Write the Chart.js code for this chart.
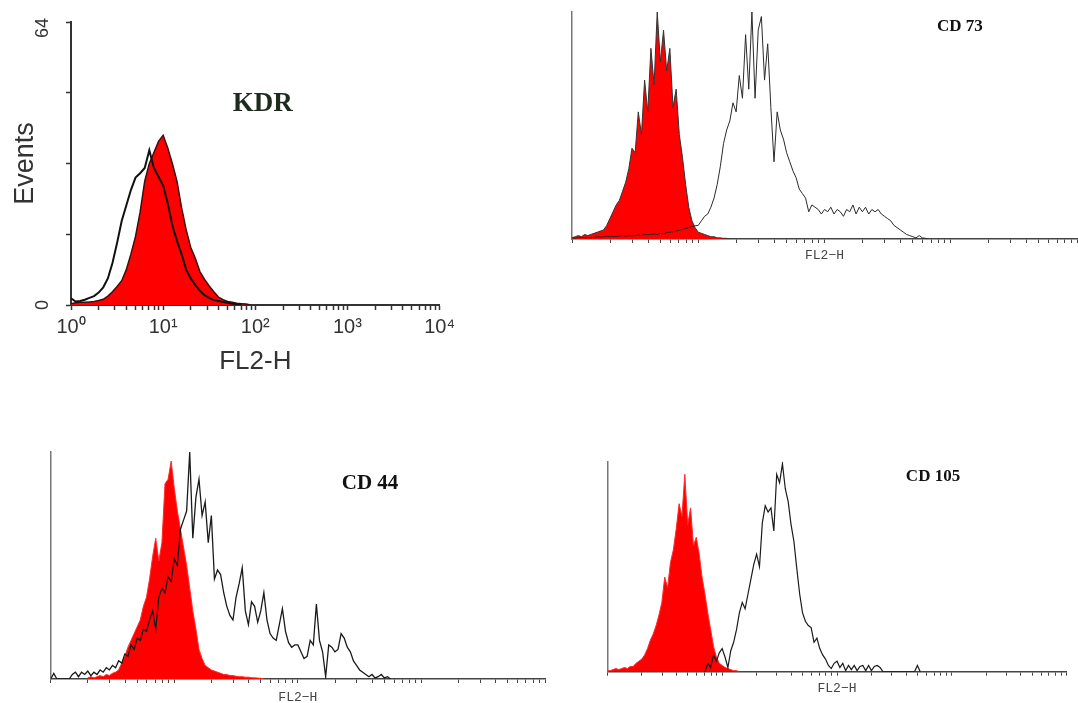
<!DOCTYPE html>
<html><head><meta charset="utf-8">
<script src="https://cdn.jsdelivr.net/npm/chart.js@4.4.1/dist/chart.umd.min.js"></script>
<style>
html,body{margin:0;padding:0;background:#fff;overflow:hidden;}
#fig{position:relative;width:1078px;height:703px;overflow:hidden;background:#fff;}
canvas{position:absolute;}
</style></head><body>
<div id="fig">
<canvas id="kdr" width="460" height="380" style="left:0px;top:0px;width:460px;height:380px"></canvas>
<canvas id="cd73" width="518" height="270" style="left:560px;top:0px;width:518px;height:270px"></canvas>
<canvas id="cd44" width="530" height="268" style="left:30px;top:440px;width:530px;height:268px"></canvas>
<canvas id="cd105" width="483" height="253" style="left:595px;top:450px;width:483px;height:253px"></canvas>
</div>
<script>
// ---------- data (histogram heights; x bins are log10 fluorescence) ----------
// KDR panel: events (0-64), bins of 0.05 decade starting at 10^0
const kdrStep = 0.05;
const kdrFilledStart = 0;
const kdrFilled = [0.3,0.5,0.6,0.6,0.7,0.8,1,1.3,2,3,4.2,5.5,8,11.5,15.5,21,28,32,34.5,37,38.4,35.5,32,28,22,17,13,10.5,7.5,5.8,4.3,3,1.8,1.2,0.8,0.6,0.4,0.3,0.2,0];
const kdrOutlineStart = 0;
const kdrOutline = [1.5,0.8,0.9,1.2,1.6,2,2.8,4,6,9.5,14,19,22.5,26,28.8,29.8,31,35,31,29,27,23,18,14.5,11.5,8,6,4.5,3.2,2.2,1.6,1.1,0.9,0.7,0.5,0.3,0.2,0];

// other panels: relative height (% of axis), bins of 0.025 decade
const binStep = 0.025;
const cd73FilledStart = 0;
const cd73Filled = [0.5,1,1.5,1,2,1.5,2,2.5,3,3.5,4,6,9,12,15,17,21,25,31,40,38,56,46,70,56,84,68,100,78,92,74,84,58,66,46,36,24,14,8,5,3,2.5,2,1.5,1,1,0.5,0.5,0.3,0.3,0];
const cd73OutlineStart = 0;
const cd73Outline = [0.5,0.3,0.5,0.8,0.5,0.7,0.5,0.8,1,0.8,1,1.2,1,1.2,1,1.3,1.5,1.2,1.5,1.3,1.5,
  1.8,1.5,2,1.8,2,2.2,2,2.5,2.2,2.8,3,3.2,3.5,3.8,4.2,4.6,5,5.5,5.8,
  6,8,10,11,14,18,24,32,42,48,52,60,56,72,62,90,66,100,62,92,98,70,86,58,34,56,48,44,38,34,30,27,22,20,18,12,15,14,13,11,13,12,14,11,13,12,10,13,12,15,11,14,12,14,11,13,12,13,11,10,9,8,6,5,4,3,2,1.5,1,0.5,1.5,0.5,0.3,0];

const cd44FilledStart = 0.3;
const cd44Filled = [0.5,1,0.5,1,1.5,1,2,1.5,2.5,3,4,7,10,14,17,20,23,26,32,36,44,54,62,52,60,86,88,96,84,74,66,58,50,40,30,22,13,9,6,5,4,3.5,3,2.5,2,2,1.5,1.5,1.2,1,1,0.8,0.8,0.6,0.5,0.4,0.3,0];
const cd44OutlineStart = 0;
const cd44Outline = [0,2.5,0,0,0,0,0,2,3,1,3,2,3.5,1.5,3,2,4,3,5,4,6,5,8,7,11,10,15,13,18,17,22,21,26,30,22,36,40,38,45,43,53,50,66,70,74,100,62,80,88,72,78,60,72,44,48,46,38,32,28,26,36,42,49,30,24,34,32,25,30,38,26,20,18,17,24,31,21,16,14,15,15,12,9,10,17,15,33,17,12,1,15,14,12,13,20,18,14,12,8,6,4,3,2,1,2,0.5,1,2,0.5,1,0];

const cd105FilledStart = 0;
const cd105Filled = [0.5,0.5,1,1.5,1,1.5,2,1.5,2.5,2.5,4,5,6,8,11,15,18,22,27,33,45,40,52,58,68,80,74,94,70,78,60,64,56,45,37,28,20,12,7,4,3,2,1.5,1,0.5,0.5,0];
const cd105OutlineStart = 0.85;
const cd105Outline = [0,4,2,8,5,9,11,7,2,10,14,20,28,33,30,37,44,51,56,50,71,79,76,78,67,94,90,99,87,81,70,62,49,37,28,24,22,21,14,16,11,8,6,3,1.5,4,5,2,4,0.5,3,1,3,0.5,2.5,3,0.5,3,0.5,2.5,3,2,0,0,0,0,0,0,0,0,0,0,0,0,3,0];

// axis ticks
const logTicks = [1,2,3,4,5,6,7,8,9,10,20,30,40,50,60,70,80,90,100,200,300,400,500,600,700,800,900,1000,2000,3000,4000,5000,6000,7000,8000,9000,10000];
const kdrDecades = [1,10,100,1000,10000];
const kdrDecadeLabels = ['10\u2070','10\u00B9','10\u00B2','10\u00B3','10\u2074'];
const kdrYTickStep = 16;
const kdrYLabelValues = [64, 0];

// ---------- helpers ----------
function toPoints(start, step, values) {
  return values.map((v, i) => ({ x: Math.pow(10, start + i * step), y: v }));
}

const annotate = {
  id: 'annotate',
  afterDraw(chart, args, opts) {
    const { ctx, chartArea: a } = chart;
    (opts.texts || []).forEach(t => {
      ctx.save();
      ctx.font = t.font; ctx.fillStyle = t.color;
      ctx.textAlign = 'center'; ctx.textBaseline = 'middle';
      ctx.fillText(t.text, a.left + t.fx * (a.right - a.left), a.top + t.fy * (a.bottom - a.top));
      ctx.restore();
    });
    if (opts.yLabels) {
      const ys = chart.scales.y;
      opts.yLabels.values.forEach((v, i) => {
        ctx.save();
        ctx.font = opts.yLabels.font; ctx.fillStyle = opts.yLabels.color;
        ctx.textAlign = 'center'; ctx.textBaseline = 'middle';
        ctx.translate(a.left + opts.yLabels.dx, ys.getPixelForValue(v) + opts.yLabels.dy[i]);
        ctx.rotate(-Math.PI / 2);
        ctx.fillText(String(v), 0, 0);
        ctx.restore();
      });
    }
  }
};

function makePanel(id, p) {
  const datasets = [
    { data: p.outline, borderColor: p.outlineColor, borderWidth: p.outlineWidth, fill: false, order: 0 },
    { data: p.filled, borderColor: p.filledBorder, borderWidth: p.filledBorderWidth, backgroundColor: '#ff0000', fill: 'origin', order: 1 }
  ];
  datasets.forEach(d => { d.pointRadius = 0; d.tension = 0; d.borderJoinStyle = 'miter'; });
  return new Chart(document.getElementById(id), {
    type: 'line',
    data: { datasets },
    plugins: [annotate],
    options: {
      responsive: false, animation: false, events: [],
      layout: { padding: p.padding },
      plugins: { legend: { display: false }, tooltip: { enabled: false }, annotate: p.annotate },
      scales: {
        x: {
          type: 'logarithmic', min: 1, max: 10000,
          afterBuildTicks: s => { s.ticks = logTicks.map(v => ({ value: v })); },
          afterFit: s => { s.height = p.xHeight; },
          ticks: p.xTicks,
          grid: { display: true, drawOnChartArea: false, drawTicks: true, tickLength: p.tickLength, tickColor: p.axisColor, tickWidth: p.tickWidth },
          border: { display: true, color: p.axisColor, width: p.axisWidth },
          title: p.xTitle
        },
        y: {
          type: 'linear', min: 0, max: p.yMax,
          afterFit: s => { s.width = p.yWidth; },
          ticks: { display: false, stepSize: p.yStep },
          grid: { display: p.yTicks, drawOnChartArea: false, drawTicks: true, tickLength: 5, tickColor: p.yAxisColor, tickWidth: 1.5 },
          border: { display: true, color: p.yAxisColor, width: p.yAxisWidth },
          title: p.yTitle
        }
      }
    }
  });
}

const smallTitle = (pb) => ({ display: true, text: 'FL2\u2212H', color: '#444', font: { family: 'Liberation Mono', size: 13 }, padding: { top: 0, bottom: pb } });
const noTicks = { display: false, autoSkip: false };
const boldSerif = (size) => 'bold ' + size + 'px "Liberation Serif"';

// KDR
makePanel('kdr', {
  filled: toPoints(kdrFilledStart, kdrStep, kdrFilled),
  outline: toPoints(kdrOutlineStart, kdrStep, kdrOutline),
  outlineColor: '#111', outlineWidth: 2, filledBorder: '#3a1010', filledBorderWidth: 1.5,
  padding: { left: 0, top: 22, right: 18, bottom: 0 },
  xHeight: 75, yWidth: 71, yMax: 64, yStep: kdrYTickStep, yTicks: true,
  tickLength: 5, tickWidth: 1.5, axisColor: '#333', axisWidth: 2, yAxisColor: '#333', yAxisWidth: 2,
  xTicks: { display: true, autoSkip: false, maxRotation: 0, minRotation: 0, padding: 5, color: '#333',
    font: { family: 'Liberation Sans', size: 20 },
    callback: v => { const k = kdrDecades.indexOf(v); return k >= 0 ? kdrDecadeLabels[k] : ''; } },
  xTitle: { display: true, text: 'FL2-H', color: '#333', font: { family: 'Liberation Sans', size: 26 }, padding: { top: 0, bottom: 3 } },
  yTitle: { display: true, text: 'Events', color: '#333', font: { family: 'Liberation Sans', size: 27 }, padding: { top: 9, bottom: 0 } },
  annotate: {
    texts: [{ text: 'KDR', fx: 0.52, fy: 0.29, font: boldSerif(27), color: '#1f2a1f' }],
    yLabels: { values: kdrYLabelValues, dx: -28, dy: [6, 0], font: '18px "Liberation Sans"', color: '#333' }
  }
});

// CD 73
makePanel('cd73', {
  filled: toPoints(cd73FilledStart, binStep, cd73Filled),
  outline: toPoints(cd73OutlineStart, binStep, cd73Outline),
  outlineColor: '#2a2a2a', outlineWidth: 1, filledBorder: '#333', filledBorderWidth: 1,
  padding: { left: 12, top: 12, right: 1, bottom: 0 },
  xHeight: 31, yWidth: 0, yMax: 100, yStep: 20, yTicks: false,
  tickLength: 4, tickWidth: 1, axisColor: '#444', axisWidth: 1.5, yAxisColor: '#777', yAxisWidth: 1.5,
  xTicks: noTicks, xTitle: smallTitle(7), yTitle: { display: false },
  annotate: { texts: [{ text: 'CD 73', fx: 0.768, fy: 0.066, font: boldSerif(17), color: '#111' }] }
});

// CD 44
makePanel('cd44', {
  filled: toPoints(cd44FilledStart, binStep, cd44Filled),
  outline: toPoints(cd44OutlineStart, binStep, cd44Outline),
  outlineColor: '#1a1a1a', outlineWidth: 1.3, filledBorder: '#ff2a2a', filledBorderWidth: 1,
  padding: { left: 20.7, top: 12, right: 15, bottom: 0 },
  xHeight: 29, yWidth: 0, yMax: 100, yStep: 20, yTicks: false,
  tickLength: 4, tickWidth: 1, axisColor: '#444', axisWidth: 1.5, yAxisColor: '#777', yAxisWidth: 1.5,
  xTicks: noTicks, xTitle: smallTitle(3), yTitle: { display: false },
  annotate: { texts: [{ text: 'CD 44', fx: 0.646, fy: 0.137, font: boldSerif(21), color: '#111' }] }
});

// CD 105
makePanel('cd105', {
  filled: toPoints(cd105FilledStart, binStep, cd105Filled),
  outline: toPoints(cd105OutlineStart, binStep, cd105Outline),
  outlineColor: '#1a1a1a', outlineWidth: 1.2, filledBorder: '#ff2a2a', filledBorderWidth: 1,
  padding: { left: 12.3, top: 11.7, right: 11.3, bottom: 0 },
  xHeight: 31.3, yWidth: 0, yMax: 100, yStep: 20, yTicks: false,
  tickLength: 4, tickWidth: 1, axisColor: '#444', axisWidth: 1.5, yAxisColor: '#777', yAxisWidth: 1.5,
  xTicks: noTicks, xTitle: smallTitle(7), yTitle: { display: false },
  annotate: { texts: [{ text: 'CD 105', fx: 0.709, fy: 0.073, font: boldSerif(17), color: '#111' }] }
});
</script>
</body></html>
